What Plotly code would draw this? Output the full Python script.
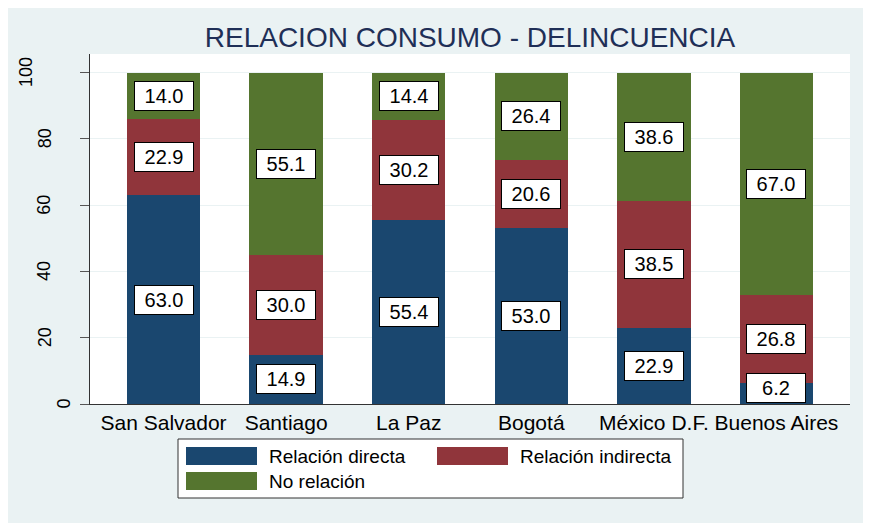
import plotly.graph_objects as go

# ---- data ----
cities = ["San Salvador", "Santiago", "La Paz", "Bogotá", "México D.F.", "Buenos Aires"]
series_names = ["Relación directa", "Relación indirecta", "No relación"]
directa = [63.0, 14.9, 55.4, 53.0, 22.9, 6.2]
indirecta = [22.9, 30.0, 30.2, 20.6, 38.5, 26.8]
no_relacion = [14.0, 55.1, 14.4, 26.4, 38.6, 67.0]
y_ticks = [0, 20, 40, 60, 80, 100]
title_text = "RELACION CONSUMO - DELINCUENCIA"

# ---- styles ----
colors = ["#1A476F", "#90353B", "#55752F"]
bg = "#EAF2F3"
OFF = 8  # page body margin
W, H = 871 - OFF, 523 - OFF
L, T = 90 - OFF, 54 - OFF
R = W - (850 - OFF)
B = H - (404 - OFF)
PW, PH = W - L - R, H - T - B
FONT = "Liberation Sans, Arial"

series = [directa, indirecta, no_relacion]
x_idx = list(range(len(cities)))

fig = go.Figure()
for name, vals, col in zip(series_names, series, colors):
    fig.add_trace(go.Bar(x=x_idx, y=vals, name=name, marker=dict(color=col, line=dict(width=0)),
                         width=0.6, showlegend=False))

# value labels in white boxes
annotations = []
base = [0.0] * len(cities)
for vals in series:
    for i, v in enumerate(vals):
        mid = base[i] + v / 2
        annotations.append(dict(x=i, y=max(mid, 4.8), xref="x", yref="y", text=f"{v:.1f}",
                                showarrow=False, font=dict(family=FONT, size=20, color="black"),
                                bgcolor="white", bordercolor="black", borderwidth=1, borderpad=1,
                                width=56, height=26, xanchor="center", yanchor="middle"))
        base[i] += v

# y tick labels (rotated)
for t in y_ticks:
    lab = str(t)
    cx = 82.5 - 19 * len(lab)  # page pixel
    annotations.append(dict(x=0, y=t, xref="paper", yref="y", text=lab, textangle=-90,
                            showarrow=False, xanchor="center", yanchor="middle",
                            xshift=(cx - OFF) - L,
                            font=dict(family=FONT, size=18, color="black")))

# custom legend (page pixel -> paper coords)
def px(x):
    return (x - OFF - L) / PW

def py(y):
    return (H - B - (y - OFF)) / PH

shapes = [dict(type="rect", xref="paper", yref="paper", x0=px(178), x1=px(683), y0=py(498), y1=py(439),
               fillcolor="white", line=dict(color="#333333", width=1))]
leg_pos = [(186, 447), (437, 447), (186, 472)]
for (sx, sy), name, col in zip(leg_pos, series_names, colors):
    shapes.append(dict(type="rect", xref="paper", yref="paper", x0=px(sx), x1=px(sx + 71),
                       y0=py(sy + 18), y1=py(sy), fillcolor=col, line=dict(width=0)))
    annotations.append(dict(x=px(sx + 81), y=py(sy + 9), xref="paper", yref="paper", text=name,
                            showarrow=False, xanchor="left", yanchor="middle",
                            font=dict(family=FONT, size=19, color="black")))

fig.update_layout(
    width=W, height=H,
    margin=dict(l=L, r=R, t=T, b=B),
    paper_bgcolor=bg, plot_bgcolor="white",
    barmode="stack", bargap=0,
    title=dict(text=title_text, x=(L + PW / 2) / W, xanchor="center", y=1 - (37 - OFF) / H,
               yanchor="middle", font=dict(family=FONT, size=28, color="#1F2F57")),
    xaxis=dict(range=[-0.6, 5.6], tickmode="array", tickvals=x_idx, ticktext=cities,
               showgrid=False, zeroline=False, showline=True, linecolor="#333333", linewidth=1,
               ticks="", tickfont=dict(family=FONT, size=21, color="black")),
    yaxis=dict(range=[0, 105.6], tickmode="array", tickvals=y_ticks, showticklabels=False,
               showgrid=True, gridcolor=bg, gridwidth=1, zeroline=False,
               showline=True, linecolor="#333333", linewidth=1, ticks="outside", ticklen=9,
               tickcolor="#555555"),
    annotations=annotations, shapes=shapes,
)

fig.write_html("out.html")
